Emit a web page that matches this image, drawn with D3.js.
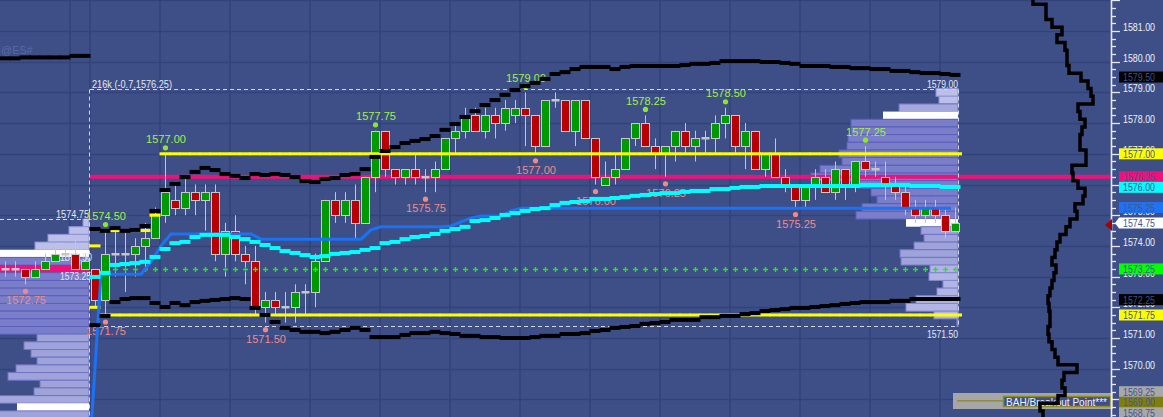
<!DOCTYPE html>
<html><head><meta charset="utf-8">
<script src="https://cdn.jsdelivr.net/npm/d3@7"></script>
<style>html,body{margin:0;padding:0;background:#3e4f88;overflow:hidden}svg{display:block}</style>
</head><body><svg id="c" width="1163" height="417"></svg>
<script>
// ---------------- DATA ----------------
const symbol = "@ES#";
const firstBar = -9; // 9 bars of the prior session before the session start
const opens = [1573.25,1573.25,1573.25,1573.0,1573.25,1573.5,1573.75,1573.75,1573.25,
 1573.25,1572.25,1573.75,1573.75,1573.75,1574.0,1574.25,1575.0,1575.5,1575.25,
 1575.75,1575.5,1575.75,1573.75,1574.5,1573.75,1573.5,1572.0,1572.25,1572.0,
 1572.0,1572.5,1572.5,1573.5,1575.5,1575.0,1575.5,1574.75,1576.25,1577.75,
 1576.5,1576.25,1576.5,1576.25,1576.25,1576.5,1577.5,1577.75,1578.25,1577.75,
 1578.25,1578.0,1578.25,1578.5,1578.25,1577.25,1578.75,1578.75,1577.75,1578.75,
 1577.5,1576.0,1576.25,1576.5,1577.5,1578.0,1577.25,1577.0,1577.25,1577.75,
 1577.25,1577.5,1577.5,1578.0,1578.25,1577.25,1577.75,1576.5,1577.0,1576.25,
 1576.0,1575.5,1576.0,1576.25,1575.75,1576.5,1576.0,1576.75,1576.5,1576.25,
 1576.0,1575.75,1575.25,1575.0,1575.25,1575.0,1574.5];
const highs = [1573.5,1573.5,1573.25,1573.5,1573.75,1574.0,1574.0,1574.25,1573.75,
 1573.25,1574.5,1574.5,1574.5,1574.25,1574.75,1575.25,1577.0,1576.0,1576.25,
 1576.0,1576.0,1576.0,1574.75,1575.0,1574.0,1574.0,1572.5,1572.5,1572.5,
 1572.75,1572.75,1573.75,1575.5,1575.75,1575.75,1576.0,1576.25,1577.75,1577.75,
 1576.5,1576.5,1577.0,1576.5,1576.75,1577.5,1578.0,1578.5,1578.5,1578.5,
 1578.5,1578.75,1578.75,1579.0,1578.25,1578.75,1579.0,1578.75,1578.75,1578.75,
 1577.5,1576.75,1577.0,1577.5,1578.0,1578.25,1577.5,1577.25,1577.75,1578.0,
 1577.75,1577.75,1578.25,1578.5,1578.25,1578.0,1577.75,1577.0,1577.5,1576.5,
 1576.0,1576.0,1576.5,1576.5,1576.75,1576.5,1576.75,1577.25,1576.75,1576.75,
 1576.25,1576.0,1575.5,1575.5,1575.5,1575.25,1575.25];
const lows = [1573.0,1573.0,1572.75,1573.0,1573.25,1573.5,1573.5,1573.25,1573.25,
 1572.0,1571.75,1573.0,1572.5,1573.0,1573.25,1574.25,1574.75,1575.0,1575.0,
 1575.0,1574.5,1573.5,1573.0,1573.5,1572.75,1571.75,1571.5,1571.75,1571.5,
 1571.5,1571.75,1572.0,1573.5,1574.75,1574.75,1574.25,1574.75,1575.75,1576.25,
 1576.0,1576.0,1576.0,1575.75,1575.75,1576.5,1577.0,1577.5,1577.75,1577.5,
 1577.5,1577.75,1578.0,1577.25,1577.0,1577.25,1578.5,1577.75,1577.25,1577.5,
 1576.0,1576.0,1576.0,1576.5,1577.25,1577.25,1576.5,1576.25,1576.75,1577.0,
 1576.75,1577.0,1577.0,1577.5,1577.0,1576.5,1576.5,1576.25,1576.25,1575.75,
 1575.25,1575.25,1575.5,1575.75,1575.5,1575.5,1575.75,1576.25,1576.25,1575.5,
 1575.5,1575.0,1574.75,1574.75,1574.75,1574.25,1574.5];
const closes = [1573.25,1573.25,1573.0,1573.25,1573.5,1573.75,1573.75,1573.25,1573.5,
 1572.25,1573.75,1573.75,1573.75,1574.0,1574.25,1575.0,1575.75,1575.25,1575.75,
 1575.5,1575.75,1573.75,1574.5,1573.75,1573.5,1572.0,1572.25,1572.0,1572.0,
 1572.5,1572.5,1573.5,1575.5,1575.0,1575.5,1574.75,1576.25,1577.75,1576.5,
 1576.25,1576.5,1576.25,1576.25,1576.5,1577.5,1577.75,1578.25,1577.75,1578.25,
 1578.0,1578.5,1578.5,1578.25,1577.25,1578.75,1578.75,1577.75,1578.75,1577.5,
 1576.25,1576.25,1576.5,1577.5,1578.0,1577.25,1577.0,1577.25,1577.75,1577.25,
 1577.5,1577.5,1578.0,1578.25,1577.25,1577.75,1576.5,1577.0,1576.25,1576.0,
 1575.5,1576.0,1576.25,1575.75,1576.5,1576.0,1576.75,1576.5,1576.5,1576.0,
 1575.75,1575.25,1575.0,1575.25,1575.0,1574.5,1574.75];

// upper deviation band (from firstBar), lower deviation band / vwap / blue / value area (from session bar 0)
const upperBand = [1580.11,1580.11,1580.14,1580.14,1580.14,1580.14,1580.14,1580.19,1580.19,
 1574.55,1574.49,1574.58,1574.49,1574.52,1574.65,1575.14,1575.82,1576.02,1576.24,
 1576.41,1576.54,1576.47,1576.34,1576.28,1576.21,1576.34,1576.31,1576.34,1576.31,
 1576.24,1576.11,1576.08,1576.18,1576.21,1576.31,1576.34,1576.50,1576.90,1577.09,
 1577.22,1577.35,1577.42,1577.48,1577.58,1577.78,1577.97,1578.20,1578.39,1578.59,
 1578.75,1578.92,1579.08,1579.21,1579.31,1579.44,1579.60,1579.66,1579.76,1579.83,
 1579.83,1579.83,1579.76,1579.83,1579.86,1579.86,1579.86,1579.86,1579.86,1579.89,
 1579.93,1579.93,1579.96,1580.02,1580.02,1580.02,1580.02,1579.99,1579.99,1579.96,
 1579.93,1579.86,1579.86,1579.86,1579.83,1579.83,1579.79,1579.79,1579.76,1579.76,
 1579.70,1579.70,1579.66,1579.63,1579.63,1579.60,1579.57];
const lowerBand = [1571.42,1571.72,1572.17,1572.27,1572.30,1572.30,1572.14,1572.01,1572.14,1572.07,
 1572.17,1572.21,1572.24,1572.27,1572.30,1572.27,1571.98,1571.75,1571.52,1571.33,
 1571.26,1571.20,1571.20,1571.16,1571.20,1571.26,1571.33,1571.26,1571.03,1571.03,
 1571.03,1571.10,1571.16,1571.16,1571.20,1571.16,1571.13,1571.07,1571.07,1571.03,
 1571.03,1571.00,1571.00,1571.00,1571.03,1571.07,1571.07,1571.13,1571.13,1571.16,
 1571.23,1571.26,1571.33,1571.36,1571.39,1571.46,1571.49,1571.52,1571.59,1571.59,
 1571.59,1571.68,1571.68,1571.72,1571.72,1571.78,1571.81,1571.88,1571.91,1571.94,
 1571.98,1571.98,1572.01,1572.04,1572.07,1572.11,1572.14,1572.17,1572.17,1572.17,
 1572.21,1572.21,1572.27,1572.27,1572.27,1572.27,1572.27];
const vwap = [1572.99,1573.12,1573.38,1573.41,1573.44,1573.48,1573.64,1573.90,1574.09,1574.13,
 1574.29,1574.36,1574.36,1574.36,1574.29,1574.22,1574.13,1574.03,1573.93,1573.83,
 1573.77,1573.70,1573.64,1573.67,1573.74,1573.77,1573.80,1573.87,1573.93,1574.09,
 1574.13,1574.22,1574.29,1574.32,1574.39,1574.49,1574.55,1574.62,1574.81,1574.84,
 1574.91,1575.01,1575.07,1575.14,1575.20,1575.23,1575.33,1575.40,1575.43,1575.46,
 1575.53,1575.53,1575.56,1575.59,1575.63,1575.66,1575.69,1575.72,1575.72,1575.76,
 1575.79,1575.79,1575.85,1575.85,1575.89,1575.92,1575.92,1575.95,1575.95,1575.95,
 1575.95,1575.95,1575.95,1575.95,1575.95,1575.95,1575.95,1575.98,1575.98,1575.98,
 1575.98,1575.98,1575.95,1575.95,1575.95,1575.92,1575.92];
const blueLine = [1568.0,1573.08,1573.08,1573.08,1573.08,1573.08,1573.48,1574.0,1574.39,1574.39,
 1574.39,1574.39,1574.39,1574.39,1574.39,1574.39,1574.39,1574.22,1574.22,1574.22,
 1574.22,1574.22,1574.22,1574.22,1574.22,1574.22,1574.22,1574.22,1574.52,1574.62,
 1574.62,1574.62,1574.62,1574.62,1574.62,1574.62,1574.65,1574.78,1574.91,1574.97,
 1574.97,1574.97,1575.14,1575.23,1575.23,1575.23,1575.23,1575.23,1575.23,1575.23,
 1575.23,1575.23,1575.23,1575.23,1575.23,1575.23,1575.23,1575.23,1575.23,1575.23,
 1575.23,1575.23,1575.23,1575.23,1575.23,1575.23,1575.23,1575.23,1575.23,1575.23,
 1575.23,1575.23,1575.23,1575.23,1575.23,1575.23,1575.23,1575.23,1575.23,1575.23,
 1575.23,1575.23,1575.23,1575.23,1575.23,1575.23,1575.23];
const vaHigh = [1574.0,1574.5,1574.5,1574.5,1574.5,1574.5,1575.0].concat(d3.range(80).map(()=>1577.0));
const vaLow = [1572.0].concat(d3.range(86).map(()=>1571.75));
const breakLevel = 1573.25;           // green dotted level
const breakStart = 2;
const sessionPOC = 1576.25;

// pivot labels  [bar, price]
const pivotHighs = [[1,1574.50],[7,1577.00],[28,1577.75],[43,1579.00],[55,1578.25],[63,1578.50],[77,1577.25]];
const pivotLows = [[-7,1572.75],[1,1571.75],[17,1571.50],[33,1575.75],[44,1577.00],[50,1576.00],[57,1576.25],[70,1575.25]];

// session volume profile (price rows, volume)
const profPrices = [1579.00,1578.75,1578.50,1578.25,1578.00,1577.75,1577.50,1577.25,1577.00,1576.75,1576.50,1576.25,
 1576.00,1575.75,1575.50,1575.25,1575.00,1574.75,1574.50,1574.25,1574.00,1573.75,1573.50,1573.25,1573.00,
 1572.75,1572.50,1572.25,1572.00,1571.75,1571.50];
const profVolumes = [22,19,59,75,107,107,110,111,119,116,138,147,98,87,81,96,102,52,37,34,44,58,57,28,29,15,21,42,52,24,1];
const profKind = ["o","o","m","w","v","v","v","v","v","v","v","v","v","v","v","v","v","w","b","b","b","b","b","l","l","l","l","l","l","l","l"];

// prior session profile
const priorPrices = [1574.75,1574.50,1574.25,1574.00,1573.75,1573.50,1573.25,1573.00,1572.75,1572.50,1572.25,1572.00,
 1571.75,1571.50,1571.25,1571.00,1570.75,1570.50,1570.25,1570.00,1569.75,1569.50,1569.25,1569.00,1568.75,1568.50];
const priorVolumes = [6,20,41,54,95,100,115,105,100,98,103,108,102,97,92,52,65,58,52,73,81,49,55,92,72,90];
const priorKind = ["o","o","o","o","w","v","p","v","v","v","v","v","v","v","v","b","b","b","b","b","b","b","b","m","w","b"];

// long-term profile outline on the right
const longPrices = d3.range(0,55).map(k=>1582-0.25*k);
const longVolumes = [33,46,46,52,62,57,65,67,67,69,81,88,91,93,78,80,85,82,80,80,86,86,72,73,78,85,83,75,77,70,
 66,60,57,55,52,56,54,52,50,48,49,50,50,48,49,52,55,58,77,64,62,65,58,40,43];

// time grid (bar boundaries)
const gridBars = [-2,0,7,14,22,29,36,43,50,57,64,71,78,85];

// right axis markers
const markerPrices = [1579.50,1577.00,1576.25,1576.00,1575.25,1574.75,1573.25,1572.25,1571.75,1569.25,1569.00,1568.75];
const markerColors = ["#000000","#ffff00","#f0107a","#00ffff","#1f72f2","#ffffff","#00ff00","#000000","#ffff00","#a8a8a8","#7f7f10","#a8a8a8"];
const lastPrice = 1574.75;

const sessionHigh = 1579.00, sessionLow = 1571.50, priorHigh = 1574.75;
const volumeNote = "216k (-0.7,1576.25)";
const breakoutText = "BAH/Breakout Point***";

// ---------------- DRAW ----------------
const W = 1163, H = 417, AX = 1111;
const FONT = "'Liberation Sans', Arial, sans-serif";
const svg = d3.select('#c');
const y = d3.scaleLinear().domain([1581,1570]).range([31,368.7]);
const x = d3.scaleLinear().domain([0,86]).range([95,955]);
const rowH = y(1580.75) - y(1581);
const fmt = d3.format(".2f");

svg.append('rect').attr('width',W).attr('height',H).attr('fill','#3e4f88');

// grid
const grid = svg.append('g').attr('stroke','#33437a').attr('stroke-width',1.6);
grid.selectAll('line.h').data(d3.range(1569,1583)).join('line')
  .attr('x1',0).attr('x2',AX).attr('y1',d=>Math.round(y(d))+0.5).attr('y2',d=>Math.round(y(d))+0.5);
grid.selectAll('line.v').data(gridBars).join('line')
  .attr('x1',d=>x(d)-5).attr('x2',d=>x(d)-5).attr('y1',0).attr('y2',H);

// prior session profile
const xPrior = d3.scaleLinear().domain([0,100]).range([89,-11]);
const kindFill = {o:"#bcbfe8", m:"#a4a8dd", w:"#ffffff", v:"#7a7ec8", b:"#9fa3d9", l:"#b2b5e3", p:"#f0107a"};
const kindStroke = {o:"#8f94d6", m:"#6d72c6", w:"none", v:"#5a5fc0", b:"#7075c8", l:"#8287cf", p:"none"};
svg.append('g').selectAll('rect').data(priorPrices).join('rect')
  .attr('x',(d,k)=>xPrior(priorVolumes[k])).attr('width',(d,k)=>89-xPrior(priorVolumes[k]))
  .attr('y',d=>y(d)-rowH/2).attr('height',rowH)
  .attr('fill',(d,k)=>kindFill[priorKind[k]]).attr('stroke',(d,k)=>kindStroke[priorKind[k]]).attr('stroke-width',1);

// session profile
const xProf = d3.scaleLinear().domain([0,100]).range([958,858]);
svg.append('g').selectAll('rect').data(profPrices).join('rect')
  .attr('x',(d,k)=>xProf(profVolumes[k])).attr('width',(d,k)=>958-xProf(profVolumes[k]))
  .attr('y',d=>y(d)-rowH/2).attr('height',rowH)
  .attr('fill',(d,k)=>kindFill[profKind[k]]).attr('stroke',(d,k)=>kindStroke[profKind[k]]).attr('stroke-width',1);

svg.append('text').attr('x',1).attr('y',54).attr('fill','#5868a4').attr('font-family',FONT).attr('font-size',11).text(symbol);

// session POC line
svg.append('rect').attr('x',90).attr('width',AX-90).attr('y',y(sessionPOC)-2).attr('height',4).attr('fill','#f0107a');

// dashed session box
const dash = svg.append('g').attr('stroke','#d4d6e8').attr('stroke-width',1).attr('stroke-dasharray','4,3').attr('fill','none');
const yTop = Math.round(y(sessionHigh+0.125))+0.5, yBot = Math.round(y(sessionLow-0.125))+0.5;
dash.append('line').attr('x1',90).attr('x2',958).attr('y1',yTop).attr('y2',yTop);
dash.append('line').attr('x1',90).attr('x2',958).attr('y1',yBot).attr('y2',yBot);
dash.append('line').attr('x1',89.5).attr('x2',89.5).attr('y1',yTop).attr('y2',H);
dash.append('line').attr('x1',958.5).attr('x2',958.5).attr('y1',yTop).attr('y2',yBot);
const yPH = Math.round(y(priorHigh+0.125))+0.5;
dash.append('line').attr('x1',0).attr('x2',89).attr('y1',yPH).attr('y2',yPH);

const txt = (xx,yy,s,anchor,len,col)=>{
  const t = svg.append('text').attr('x',xx).attr('y',yy).attr('fill',col||'#e4e6f4')
   .attr('font-family',FONT).attr('font-size',11).attr('text-anchor',anchor||'start').text(s);
  if(len) t.attr('textLength',len).attr('lengthAdjust','spacingAndGlyphs');
  return t;
};
txt(92,yTop-2,volumeNote,'start',80);
txt(958,yTop-2,fmt(sessionHigh),'end',31);
txt(958,yBot+11,fmt(sessionLow),'end',31);
txt(89,yPH-2,fmt(priorHigh),'end',33);
txt(60,y(1573.5),fmt(1573.5),'start',32);
txt(60,y(1573.25)+11,fmt(1573.25),'start',31);

// candles
const bars = opens.map((o,k)=>({i:firstBar+k,o,h:highs[k],l:lows[k],c:closes[k]}));
const cg = svg.append('g');
cg.selectAll('line').data(bars).join('line')
  .attr('x1',d=>x(d.i)+0.5).attr('x2',d=>x(d.i)+0.5)
  .attr('y1',d=>y(d.h)).attr('y2',d=>y(d.l)).attr('stroke','#c6c6c6').attr('stroke-width',1);
cg.selectAll('rect').data(bars).join('rect')
  .attr('x',d=>x(d.i)-3.5).attr('width',8)
  .attr('y',d=>d.o===d.c ? Math.round(y(d.o))-1 : Math.round(y(Math.max(d.o,d.c)))+0.5)
  .attr('height',d=>d.o===d.c ? 2.5 : Math.max(1,Math.round(y(Math.min(d.o,d.c)))-Math.round(y(Math.max(d.o,d.c)))))
  .attr('fill',d=>d.o===d.c ? '#c6c6c6' : (d.c>d.o ? '#009a00' : '#b80000'))
  .attr('stroke',d=>d.o===d.c ? 'none' : '#c8c8c8').attr('stroke-width',1);

// pivot labels
const pl = svg.append('g').attr('font-family',FONT).attr('font-size',11).attr('text-anchor','middle');
pivotHighs.forEach(([i,p])=>{
  pl.append('circle').attr('cx',x(i)+0.5).attr('cy',y(p)-6).attr('r',2.6).attr('fill','#8fe52e');
  pl.append('text').attr('x',x(i)+1).attr('y',y(p)-10.5).attr('fill','#a2f04a').text(fmt(p));
});
pivotLows.forEach(([i,p])=>{
  pl.append('circle').attr('cx',x(i)+0.5).attr('cy',y(p)+7).attr('r',2.6).attr('fill','#f08a8a');
  pl.append('text').attr('x',x(i)+1).attr('y',y(p)+20).attr('fill','#f28a8a').text(fmt(p));
});

// step bands
function band(vals, start, color, h){
  const g = svg.append('g');
  g.selectAll('rect').data(vals.map((v,k)=>({i:start+k,v})).filter(d=>d.v!=null)).join('rect')
   .attr('x',d=>x(d.i)-5.5).attr('width',11).attr('y',d=>y(d.v)-h/2).attr('height',h).attr('fill',color);
}
band(vaHigh,0,'#ffff00',3);
band(vaLow,0,'#ffff00',3);
svg.append('rect').attr('x',x(86)+5).attr('width',2).attr('y',y(vaHigh[86])-1.5).attr('height',3).attr('fill','#ffff00');
svg.append('rect').attr('x',x(86)+5).attr('width',2).attr('y',y(vaLow[86])-1.5).attr('height',3).attr('fill','#ffff00');

// green dotted breakout level
const gd = svg.append('g').attr('stroke','#00ff00').attr('stroke-width',1.3);
gd.selectAll('path').data(d3.range(breakStart,87)).join('path')
  .attr('d',i=>`M${x(i)-2},${Math.round(y(breakLevel))+0.5}h5M${x(i)+0.5},${Math.round(y(breakLevel))-2}v5`);

// blue line
svg.append('path').datum(blueLine)
  .attr('d',d3.line().x((d,i)=>x(i)-4).y(d=>y(d)))
  .attr('fill','none').attr('stroke','#1a72f4').attr('stroke-width',3);

band(vwap,0,'#00ffff',4);
band(upperBand,firstBar,'#000000',4);
band(lowerBand,0,'#000000',4);

// BAH / breakout point
svg.append('rect').attr('x',953).attr('y',393).attr('width',160).attr('height',16).attr('fill','#a6a6a6');
svg.append('line').attr('x1',957).attr('x2',1003).attr('y1',y(1569)+1.5).attr('y2',y(1569)+1.5).attr('stroke','#7f7f10').attr('stroke-width',1);
svg.append('rect').attr('x',1003.5).attr('y',396.5).attr('width',107).attr('height',10).attr('fill','#3e4f88').attr('stroke','#8c8c20').attr('stroke-width',1.5);
txt(1006,405.5,breakoutText,'start',101,'#f0f0f8');

// long profile outline
const lpts = [];
longPrices.forEach((p,k)=>{const xx=1000+longVolumes[k]; lpts.push([xx,y(p)-rowH/2],[xx,y(p)+rowH/2]);});
svg.append('path').attr('d',d3.line()(lpts)).attr('fill','none').attr('stroke','#000').attr('stroke-width',3.5);

// right axis
const ax = svg.append('g');
ax.append('line').attr('x1',AX+0.5).attr('x2',AX+0.5).attr('y1',0).attr('y2',H).attr('stroke','#e8e8f0').attr('stroke-width',1.6);
const ticks = d3.range(0,56).map(k=>1582-0.25*k);
ax.selectAll('line.t').data(ticks).join('line')
  .attr('x1',AX).attr('x2',d=>AX+(Number.isInteger(d)?9:5))
  .attr('y1',d=>Math.round(y(d))+0.5).attr('y2',d=>Math.round(y(d))+0.5)
  .attr('stroke','#e8e8f0').attr('stroke-width',1.3);
ax.selectAll('text').data(d3.range(1569,1582)).join('text')
  .attr('x',1123).attr('y',d=>y(d)).attr('fill','#eef0f8').attr('font-family',FONT).attr('font-size',11)
  .attr('textLength',32).attr('lengthAdjust','spacingAndGlyphs').text(d=>fmt(d));

// marker boxes with simple collision avoidance
let prev = -100;
const mk = markerPrices.map((p,k)=>({p,c:markerColors[k]})).sort((a,b)=>b.p-a.p).map(d=>{
  let cy = y(d.p); if(cy < prev+10.5) cy = prev+10.5; prev = cy; return {...d,cy};
});
mk.forEach(d=>{
  if(d.p===lastPrice && d.c==="#ffffff"){
    ax.append('path').attr('d',`M1115,${d.cy}L1119,${d.cy-5.5}H1163V${d.cy+5.5}H1119Z`).attr('fill',d.c);
  } else {
    ax.append('rect').attr('x',1119).attr('y',d.cy-5.5).attr('width',44).attr('height',11).attr('fill',d.c);
  }
  ax.append('text').attr('x',1123).attr('y',d.cy+4).attr('fill',d.c==="#000000"?'#3e4f88':'#46568e')
    .attr('font-family',FONT).attr('font-size',11).attr('textLength',32).attr('lengthAdjust','spacingAndGlyphs').text(fmt(d.p));
});
// last price arrow
const yl = y(lastPrice)+2;
svg.append('path').attr('d',`M1105,${yl}L1112,${yl-6}V${yl+6}Z`).attr('fill','#a80000');
</script>
</body></html>
